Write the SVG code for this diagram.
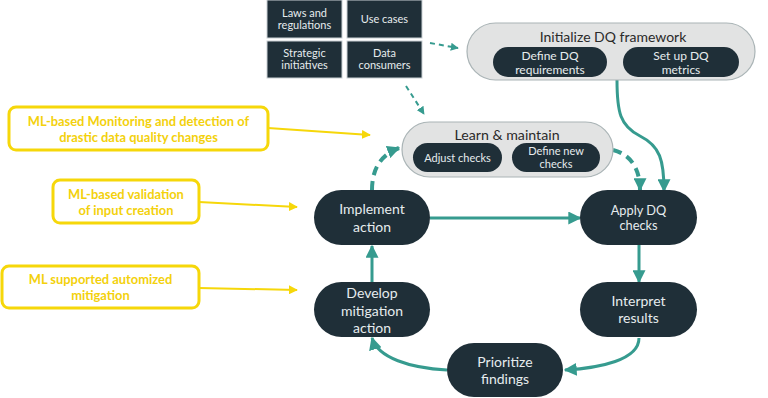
<svg xmlns="http://www.w3.org/2000/svg" width="768" height="398" viewBox="0 0 768 398">
<style>
  .dark{fill:#1f2f38;}
  .sq{fill:#1f2f38;stroke:#c9d0d3;stroke-width:1;}
  .outer{fill:#e2e3e3;stroke:#aab4b6;stroke-width:1.2;}
  .t{font-family:Lato,"Open Sans",sans-serif;fill:#e6ecee;text-anchor:middle;}
  .tt{font-family:Lato,"Open Sans",sans-serif;fill:#2a2a2a;text-anchor:middle;}
  .y{fill:#fff;stroke:#f6d70a;stroke-width:3;}
  .yt{font-family:Lato,"Open Sans",sans-serif;font-weight:700;fill:#f3d10c;text-anchor:middle;font-size:12.9px;}
  .a{fill:none;stroke:#369b8f;stroke-width:3;}
  .ad{fill:none;stroke:#369b8f;stroke-width:4;stroke-dasharray:9 6;}
  .at{fill:none;stroke:#369b8f;stroke-width:2;stroke-dasharray:5 4;}
  .ya{fill:none;stroke:#f6d70a;stroke-width:2;}
</style>
<defs>
  <marker id="m" markerUnits="userSpaceOnUse" viewBox="0 0 10 10" refX="9" refY="5" markerWidth="13" markerHeight="13" orient="auto"><path d="M0,0 L10,5 L0,10 z" fill="#369b8f"/></marker>
  <marker id="ms" markerUnits="userSpaceOnUse" viewBox="0 0 10 10" refX="9" refY="5" markerWidth="8" markerHeight="8" orient="auto"><path d="M0,0 L10,5 L0,10 z" fill="#369b8f"/></marker>
  <marker id="my" markerUnits="userSpaceOnUse" viewBox="0 0 10 10" refX="9" refY="5" markerWidth="9" markerHeight="9" orient="auto"><path d="M0,0 L10,5 L0,10 z" fill="#f6d70a"/></marker>
</defs>
<rect width="768" height="398" fill="#fff"/>

<g id="connectors">
  <path class="at" d="M430,43 L458,48" marker-end="url(#ms)"/>
  <path class="at" d="M406,86 L424,114" marker-end="url(#ms)"/>
  <path class="a" d="M617,80 C617,112 620,126 640,136 C660,146 664,160 664,191" marker-end="url(#m)"/>
  <path class="ad" d="M613,150 C630,154 640,168 640,190" marker-end="url(#m)"/>
  <path class="ad" d="M372,190 C372,170 380,155 399,148" marker-end="url(#m)"/>
  <path class="a" d="M430,218 L580,218" marker-end="url(#m)"/>
  <path class="a" d="M639,244 L639,282" marker-end="url(#m)"/>
  <path class="a" d="M639,338 C639,360 600,368 565,370" marker-end="url(#m)"/>
  <path class="a" d="M447,370 C410,368 378,358 372,338" marker-end="url(#m)"/>
  <path class="a" d="M372,283 L372,246" marker-end="url(#m)"/>
  <path class="ya" d="M268,128 L370,135" marker-end="url(#my)"/>
  <path class="ya" d="M199,202 L297,207" marker-end="url(#my)"/>
  <path class="ya" d="M199,288 L297,290" marker-end="url(#my)"/>
</g>

<g id="laws"><rect class="sq" x="267" y="0" width="75" height="38"/><text class="t" font-size="11"><tspan x="304.5" y="17">Laws and</tspan><tspan x="304.5" y="29">regulations</tspan></text></g>
<g id="usecases"><rect class="sq" x="347" y="0" width="75" height="38"/><text class="t" font-size="11" x="384.5" y="23">Use cases</text></g>
<g id="strategic"><rect class="sq" x="267" y="41" width="75" height="37"/><text class="t" font-size="11"><tspan x="304.5" y="57">Strategic</tspan><tspan x="304.5" y="69">initiatives</tspan></text></g>
<g id="consumers"><rect class="sq" x="347" y="41" width="75" height="37"/><text class="t" font-size="11"><tspan x="384.5" y="57">Data</tspan><tspan x="384.5" y="69">consumers</tspan></text></g>

<g id="init">
  <rect class="outer" x="467" y="23" width="288" height="57" rx="28.5"/>
  <text class="tt" font-size="14" x="613" y="42">Initialize DQ framework</text>
  <rect class="dark" x="493" y="47" width="114" height="30" rx="15"/>
  <text class="t" font-size="12"><tspan x="550" y="60">Define DQ</tspan><tspan x="550" y="74">requirements</tspan></text>
  <rect class="dark" x="623" y="47" width="116" height="30" rx="15"/>
  <text class="t" font-size="12"><tspan x="681" y="60">Set up DQ</tspan><tspan x="681" y="74">metrics</tspan></text>
</g>

<g id="learn">
  <rect class="outer" x="402" y="122" width="211" height="55" rx="27.5"/>
  <text class="tt" font-size="14.2" x="507" y="140">Learn &amp; maintain</text>
  <rect class="dark" x="413" y="143" width="89" height="29" rx="14.5"/>
  <text class="t" font-size="11" x="457.5" y="161.5">Adjust checks</text>
  <rect class="dark" x="512" y="143" width="88" height="29" rx="14.5"/>
  <text class="t" font-size="11"><tspan x="556" y="155">Define new</tspan><tspan x="556" y="168">checks</tspan></text>
</g>

<g id="implement"><rect class="dark" x="314" y="190" width="116" height="55" rx="27.5"/><text class="t" font-size="14"><tspan x="372" y="214">Implement</tspan><tspan x="372" y="232">action</tspan></text></g>
<g id="apply"><rect class="dark" x="580" y="190" width="117" height="55" rx="27.5"/><text class="t" font-size="12.8"><tspan x="638.5" y="214.5">Apply DQ</tspan><tspan x="638.5" y="230">checks</tspan></text></g>
<g id="develop"><rect class="dark" x="314" y="282" width="116" height="55" rx="27.5"/><text class="t" font-size="14"><tspan x="372" y="298">Develop</tspan><tspan x="372" y="315.5">mitigation</tspan><tspan x="372" y="333">action</tspan></text></g>
<g id="interpret"><rect class="dark" x="580" y="282" width="117" height="55" rx="27.5"/><text class="t" font-size="14"><tspan x="638.5" y="306">Interpret</tspan><tspan x="638.5" y="323">results</tspan></text></g>
<g id="prioritize"><rect class="dark" x="447" y="343" width="116" height="54" rx="27"/><text class="t" font-size="14"><tspan x="505" y="367">Prioritize</tspan><tspan x="505" y="384">findings</tspan></text></g>

<g id="ml-monitoring"><rect class="y" x="9" y="107" width="259" height="43" rx="7"/><text class="yt"><tspan x="138.5" y="126">ML-based Monitoring and detection of</tspan><tspan x="138.5" y="142">drastic data quality changes</tspan></text></g>
<g id="ml-validation"><rect class="y" x="53" y="180" width="146" height="43" rx="7"/><text class="yt"><tspan x="126" y="199">ML-based validation</tspan><tspan x="126" y="215">of input creation</tspan></text></g>
<g id="ml-mitigation"><rect class="y" x="2" y="266" width="197" height="42" rx="7"/><text class="yt"><tspan x="100.5" y="284">ML supported automized</tspan><tspan x="100.5" y="300">mitigation</tspan></text></g>
</svg>
